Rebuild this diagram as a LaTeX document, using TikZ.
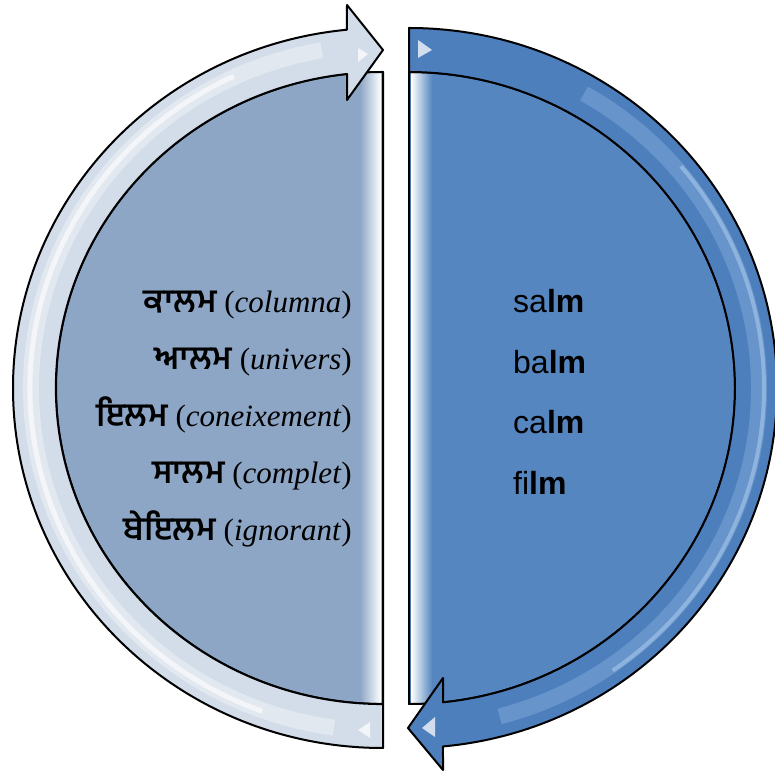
\documentclass[tikz,border=0pt]{standalone}
\usepackage{fontspec}
\setmainfont{Liberation Serif}
\newfontfamily\arial{Liberation Sans}
\newfontfamily\gurmukhi[Script=Gurmukhi,Scale=1.05]{Hind Jalandhar}
\usetikzlibrary{positioning}
\definecolor{leftpanel}{HTML}{8DA6C6}
\definecolor{leftring}{HTML}{D3DCE9}
\definecolor{rightpanel}{HTML}{5686C0}
\definecolor{rightring}{HTML}{4E7FBD}
\definecolor{rightgloss}{HTML}{B3D3F3}

\begin{document}
\begin{tikzpicture}[x=1pt,y=1pt,line join=round,
		edge/.style={draw=black, line width=2pt},
		gloss/.style={fill=white, fill opacity=0.75},
		pan/.style={anchor=base east, inner sep=0pt, text height=24pt, text depth=8pt,
			font=\fontsize{31}{36}\selectfont},
		eng/.style={anchor=base west, inner sep=0pt, text height=24pt, text depth=8pt,
			font=\arial\fontsize{32}{38}\selectfont}]
	\useasboundingbox (0,0) rectangle (774,776);
	% left half
	\fill[leftpanel] (383,72) arc[start angle=270, end angle=90, x radius=327, y radius=316] -- cycle;
	\shade[left color=leftpanel, right color=white] (360,72) rectangle (381,704);
	\draw[edge] (383,72) arc[start angle=270, end angle=90, x radius=327, y radius=316] -- cycle;
	% right half
	\fill[rightpanel] (409,704) arc[start angle=90, end angle=-90, x radius=326, y radius=316] -- cycle;
	\shade[left color=white, right color=rightpanel] (411,72) rectangle (432,704);
	\draw[edge] (409,704) arc[start angle=90, end angle=-90, x radius=326, y radius=316] -- cycle;
	% left ring arrow
	\filldraw[edge, fill=leftring] (383,72) -- (383,28)
		arc[start angle=270, end angle=95.6, x radius=370, y radius=360]
		-- (347,771) -- (383,726) -- (347,676) -- (347,702)
		arc[start angle=96.3, end angle=270, x radius=327, y radius=316] -- cycle;
	\draw[white, line width=16pt, opacity=0.35] (383,388) ++(262:352 and 343)
		arc[start angle=262, end angle=100, x radius=352, y radius=343];
	\draw[white, line width=5pt, opacity=0.6] (383,388) ++(250:353 and 344)
		arc[start angle=250, end angle=115, x radius=353, y radius=344];
	% right ring arrow
	\filldraw[edge, fill=rightring] (409,704) -- (409,748)
		arc[start angle=90, end angle=-84.7, x radius=368, y radius=360]
		-- (443,6) -- (408,48) -- (443,98) -- (443,73.7)
		arc[start angle=-84, end angle=90, x radius=326, y radius=316] -- cycle;
	\draw[rightgloss, line width=16pt, opacity=0.25] (409,388) ++(60:350 and 340)
		arc[start angle=60, end angle=-75, x radius=350, y radius=340];
	\draw[rightgloss, line width=4pt, opacity=0.5] (409,388) ++(40:355 and 345)
		arc[start angle=40, end angle=-55, x radius=355, y radius=345];
	% small gloss marks
	\fill[gloss] (358,728) -- (368,722) -- (358,714) -- cycle;
	\fill[gloss] (418,736) -- (432,726) -- (418,718) -- cycle;
	\fill[gloss] (370,54) -- (358,46) -- (370,38) -- cycle;
	\fill[gloss] (435,59) -- (422,48) -- (435,39) -- cycle;
	% words on the left
	\node[pan] (k1) at (352,463) {{\gurmukhi\bfseries ਕਾਲਮ} (\textit{columna})};
	\node[pan, below=24.5pt of k1.south east, anchor=north east] (k2) {{\gurmukhi\bfseries ਆਲਮ} (\textit{univers})};
	\node[pan, below=24.5pt of k2.south east, anchor=north east] (k3) {{\gurmukhi\bfseries ਇਲਮ} (\textit{coneixement})};
	\node[pan, below=24.5pt of k3.south east, anchor=north east] (k4) {{\gurmukhi\bfseries ਸਾਲਮ} (\textit{complet})};
	\node[pan, below=24.5pt of k4.south east, anchor=north east] (k5) {{\gurmukhi\bfseries ਬੇਇਲਮ} (\textit{ignorant})};
	% words on the right
	\node[eng] (e1) at (513,463) {sa\textbf{lm}};
	\node[eng, below=28pt of e1.south west, anchor=north west] (e2) {ba\textbf{lm}};
	\node[eng, below=28pt of e2.south west, anchor=north west] (e3) {ca\textbf{lm}};
	\node[eng, below=28pt of e3.south west, anchor=north west] (e4) {fi\textbf{lm}};
\end{tikzpicture}
\end{document}
